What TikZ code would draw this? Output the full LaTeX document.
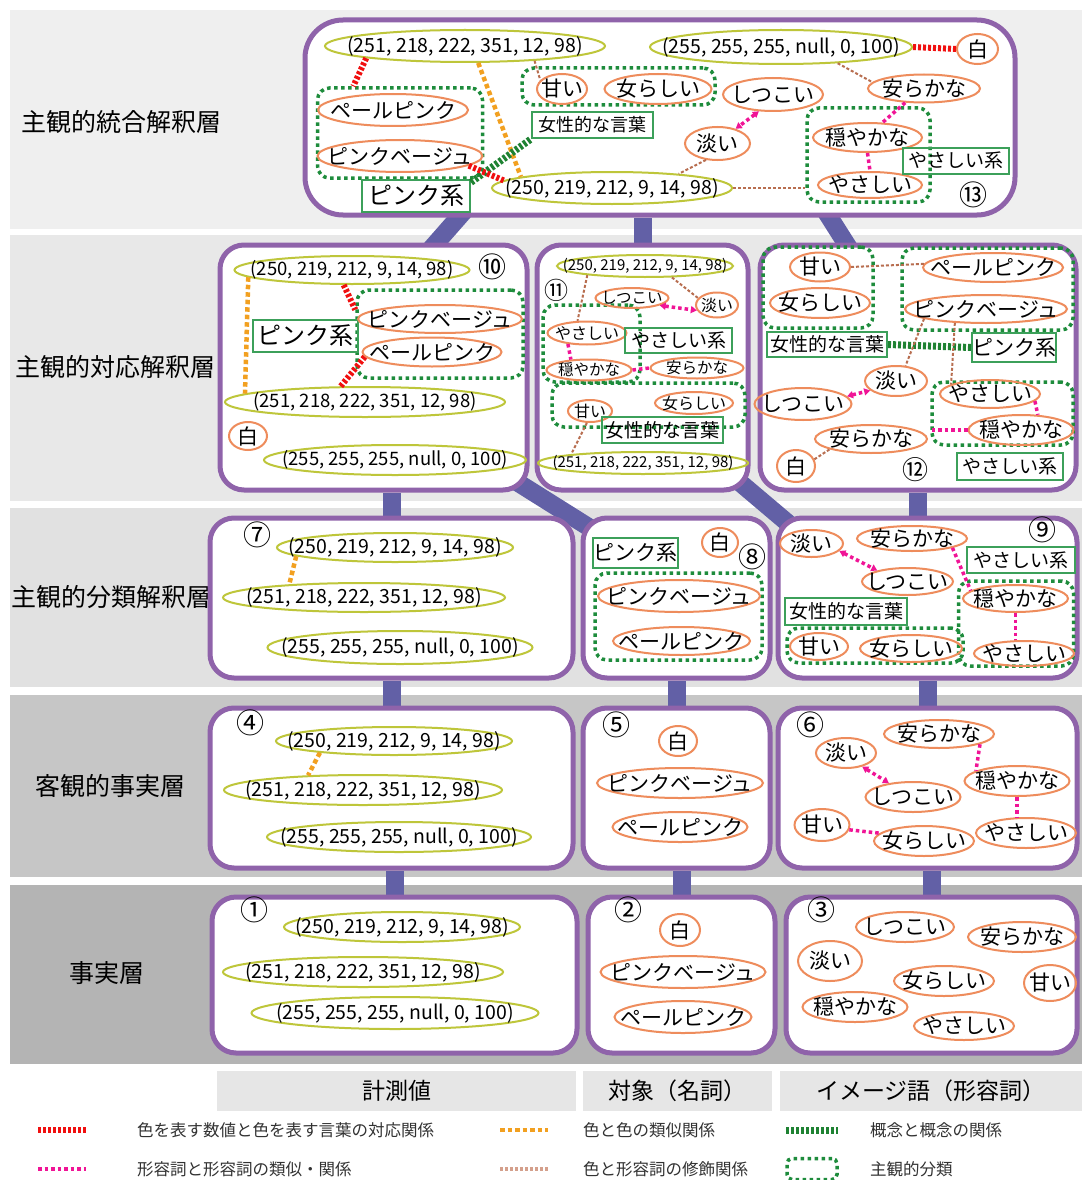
\documentclass[tikz,border=0pt]{standalone}
\usepackage{fontspec}
\setmainfont{Noto Sans CJK JP}
\usetikzlibrary{shapes.geometric,arrows.meta,calc}
\pgfdeclarelayer{bg}
\pgfsetlayers{bg,main}
\definecolor{boxc}{RGB}{143,99,170}
\definecolor{barc}{RGB}{98,96,166}
\definecolor{numc}{RGB}{190,198,58}
\definecolor{wordc}{RGB}{238,140,92}
\definecolor{catc}{RGB}{60,160,90}
\definecolor{grpc}{RGB}{30,140,60}
\definecolor{redc}{RGB}{240,16,16}
\definecolor{orac}{RGB}{242,160,32}
\definecolor{grnc}{RGB}{30,130,50}
\definecolor{magc}{RGB}{240,20,150}
\definecolor{brnc}{RGB}{184,110,80}
\definecolor{brnl}{RGB}{212,160,140}
\definecolor{bandA}{RGB}{239,239,239}
\definecolor{bandB}{RGB}{232,232,232}
\definecolor{bandC}{RGB}{225,225,225}
\definecolor{bandD}{RGB}{198,198,198}
\definecolor{bandE}{RGB}{180,180,180}
\definecolor{hdrc}{RGB}{230,230,230}
\definecolor{lgtc}{RGB}{50,50,50}
\tikzset{
  box/.style={draw=boxc, line width=5, fill=white, rounded corners=#1, inner sep=0},
  box/.default=24,
  bar/.style={draw=barc, line width=18},
  nume/.style={ellipse, draw=numc, line width=2, inner sep=0},
  worde/.style={ellipse, draw=wordc, line width=2, inner sep=0},
  tx/.style={inner sep=0, text=black},
  cat/.style={draw=catc, line width=2, inner sep=0},
  grp/.style={draw=grpc, line width=3.5, dash pattern=on 3.5pt off 3.5pt, rounded corners=12, inner sep=0},
  corr/.style={draw=redc, line width=6, dash pattern=on 3pt off 2pt},
  simc/.style={draw=orac, line width=4.5, dash pattern=on 4.5pt off 3pt},
  conc/.style={draw=grnc, line width=7, dash pattern=on 3pt off 2pt},
  adjc/.style={draw=magc, line width=3.5, dash pattern=on 3.5pt off 3pt},
  adjb/.style={adjc, arrows={Triangle[length=6pt,width=7pt]-Triangle[length=6pt,width=7pt]}},
  modc/.style={draw=brnc, line width=2, dash pattern=on 3pt off 2pt},
  circ/.style={inner sep=0, font=\fontsize{28}{28}\selectfont},
  lay/.style={inner sep=0, font=\fontsize{25}{25}\selectfont},
  hdr/.style={fill=hdrc, inner sep=0, font=\fontsize{23}{23}\selectfont},
  lgt/.style={inner sep=0, anchor=west, text=lgtc, font=\fontsize{16.5}{16.5}\selectfont},
}
\newcommand\NumE[7]{%
  \node[nume,minimum width=#4,minimum height=#5] (#1) at (#2,#3) {};
  \node[tx,font=\fontsize{#6}{#6}\selectfont] (#1t) at (#1.center) {#7};}
\newcommand\WordE[7]{%
  \node[worde,minimum width=#4,minimum height=#5] (#1) at (#2,#3) {};
  \node[tx,font=\fontsize{#6}{#6}\selectfont] (#1t) at (#1.center) {#7};}
\begin{document}
\begin{tikzpicture}[x=1pt,y=-1pt]
\useasboundingbox (0,0) rectangle (1082,1180);
% bands
\begin{pgfonlayer}{bg}
\fill[white] (0,0) rectangle (1082,1180);
\fill[bandA] (10,10) rectangle (1082,229);
\fill[bandB] (10,235) rectangle (1082,501);
\fill[bandC] (10,508) rectangle (1082,687);
\fill[bandD] (10,695) rectangle (1082,877);
\fill[bandE] (10,885) rectangle (1082,1064);
\end{pgfonlayer}
\node[lay] (y1) at (121,122) {主観的統合解釈層};
\node[lay] (y2) at (115,367) {主観的対応解釈層};
\node[lay] (y3) at (111,597) {主観的分類解釈層};
\node[lay] (y4) at (110,786) {客観的事実層};
\node[lay] (y5) at (107,973) {事実層};
% boxes
\node[box=38, minimum width=710, minimum height=195] (b13) at (660,117.5) {};
\node[box, minimum width=307, minimum height=245] (b10) at (373.5,367.5) {};
\node[box, minimum width=211, minimum height=245] (b11) at (642.5,367.5) {};
\node[box, minimum width=316, minimum height=245] (b12) at (918,367.5) {};
\node[box, minimum width=363, minimum height=160] (b7) at (391.5,598) {};
\node[box, minimum width=187, minimum height=160] (b8) at (676.5,598) {};
\node[box, minimum width=299, minimum height=160] (b9) at (927.5,598) {};
\node[box, minimum width=363, minimum height=160] (b4) at (391.5,788) {};
\node[box, minimum width=187, minimum height=160] (b5) at (676.5,788) {};
\node[box, minimum width=299, minimum height=160] (b6) at (927.5,788) {};
\node[box, minimum width=365, minimum height=156] (b1) at (394.5,975) {};
\node[box, minimum width=187, minimum height=156] (b2) at (681.5,975) {};
\node[box, minimum width=291, minimum height=156] (b3) at (931.5,975) {};
% bars
\begin{pgfonlayer}{bg}
\draw[bar] (b1.north) -- (b1.north |- b4.south);
\draw[bar] (b2.north) -- (b2.north |- b5.south);
\draw[bar] (b3.north) -- (b3.north |- b6.south);
\draw[bar] (b4.north) -- (b4.north |- b7.south);
\draw[bar] (b5.north) -- (b5.north |- b8.south);
\draw[bar] (b6.north) -- (b6.north |- b9.south);
\draw[bar] (b7.north) -- (b7.north |- b10.south);
\draw[bar] (b12.south) -- (b12.south |- b9.north);
\draw[bar] ($(b10.south east)+(-15,-12)$) -- ($(b8.north west)+(12,14)$);
\draw[bar] ($(b11.south east)+(-13,-12)$) -- ($(b9.north west)+(14,9)$);
\draw[bar] (b11.north) -- (b11.north |- b13.south);
\draw[bar] ($(b13.south west)+(163,-8)$) -- ($(b10.north west)+(212,8)$);
\draw[bar] ($(b13.south east)+(-193,-8)$) -- ($(b12.north west)+(93,8)$);
\end{pgfonlayer}
% ===== box 13 =====
\node[grp, minimum width=165, minimum height=90] (tg1) at (400,133) {};
\node[grp, minimum width=193, minimum height=37] (tg2) at (618.5,86.5) {};
\node[grp, minimum width=123, minimum height=94] (tg3) at (868.5,155) {};
\NumE{t1}{465}{46}{280}{32}{19.5}{(251, 218, 222, 351, 12, 98)}
\NumE{t2}{781}{47}{262}{34}{19.5}{(255, 255, 255, null, 0, 100)}
\WordE{tw}{977.5}{49}{41}{30}{21}{白}
\NumE{t3}{612}{188}{240}{32}{19.5}{(250, 219, 212, 9, 14, 98)}
\WordE{tpp}{393}{110}{150}{32}{21}{ペールピンク}
\WordE{tpb}{400}{156}{165}{32}{21}{ピンクベージュ}
\node[cat, minimum width=108, minimum height=32, font=\fontsize{24}{24}\selectfont] (tcp) at (416,196) {ピンク系};
\WordE{tam}{562}{89}{50}{30}{21}{甘い}
\WordE{tjo}{658}{89}{107}{30}{21}{女らしい}
\node[cat, minimum width=121, minimum height=26, font=\fontsize{18}{18}\selectfont] (tjc) at (592.5,125) {女性的な言葉};
\WordE{tsh}{773}{94.5}{100}{33}{21}{しつこい}
\WordE{taw}{717.5}{143.5}{65}{33}{21}{淡い}
\WordE{tya}{924}{88.5}{112}{28}{21}{安らかな}
\WordE{tod}{867.5}{137.5}{109}{29}{21}{穏やかな}
\WordE{tys}{870}{185}{104}{26}{21}{やさしい}
\node[cat, minimum width=106, minimum height=26, font=\fontsize{19}{19}\selectfont] (tyc) at (956,160.5) {やさしい系};
\node[circ] (n13) at (973,195) {⑬};
\draw[corr] (t1.187) -- (tg1.135);
\draw[corr] (t2.east) -- (tw.west);
\draw[simc] (t1.308) -- (t3.173);
\draw[conc] (tcp.14) -- (tjc.south west);
\draw[corr] (tpb.352) -- (t3.176);
\draw[modc] (t1.348) -- (tam.158);
\draw[adjb] (tsh.230) -- (taw.39);
\draw[modc] (taw.235) -- (t3.12);
\draw[modc] (t2.344) -- (tya.173);
\draw[adjc] (tya.217) -- (tod.45);
\draw[adjc] (tod.south) -- (tys.north);
\draw[modc] (t3.east) -- (t3.east -| tg3.west);
% ===== box 10 =====
\node[grp, minimum width=166, minimum height=88] (ag) at (440,334) {};
\NumE{a1}{352}{270}{235}{28}{18.5}{(250, 219, 212, 9, 14, 98)}
\node[circ] (n10) at (492,267) {⑩};
\node[cat, minimum width=105, minimum height=32, font=\fontsize{24}{24}\selectfont] (acp) at (305.5,336) {ピンク系};
\WordE{apb}{440}{319}{164}{28}{21}{ピンクベージュ}
\WordE{app}{432}{352}{139}{29}{21}{ペールピンク}
\NumE{a2}{365}{402}{280}{30}{18.5}{(251, 218, 222, 351, 12, 98)}
\WordE{aw}{248}{436}{38}{28}{21}{白}
\NumE{a3}{395}{460}{262}{30}{18.5}{(255, 255, 255, null, 0, 100)}
\draw[simc] (a1.184) -- (a2.176);
\draw[corr] (a1.241) -- (ag.164);
\draw[corr] (a2.147) -- (app.184);
% ===== box 11 =====
\node[grp, minimum width=97, minimum height=77] (cg1) at (591.5,343.5) {};
\node[grp, minimum width=193, minimum height=44] (cg2) at (648.5,405) {};
\NumE{c1}{645}{266}{176}{22}{15}{(250, 219, 212, 9, 14, 98)}
\node[circ, font=\fontsize{24}{24}\selectfont] (n11) at (556,290) {⑪};
\WordE{csh}{632}{298}{73}{20}{15.5}{しつこい}
\WordE{caw}{717}{305}{42}{25}{16}{淡い}
\WordE{cys}{587}{333}{79}{23}{16}{やさしい}
\node[cat, minimum width=107, minimum height=25, font=\fontsize{19}{19}\selectfont] (cyc) at (678.5,340.5) {やさしい系};
\WordE{cod}{589}{370}{85}{21}{15.5}{穏やかな}
\WordE{cya}{697}{368}{93}{21}{15.5}{安らかな}
\WordE{cjo}{694}{403}{78}{22}{16}{女らしい}
\WordE{cam}{590}{411}{44}{22}{16}{甘い}
\node[cat, minimum width=121, minimum height=26, font=\fontsize{19}{19}\selectfont] (cjc) at (662.5,430) {女性的な言葉};
\NumE{c2}{643}{463}{210}{22}{15}{(251, 218, 222, 351, 12, 98)}
\draw[adjb] (csh.345) -- (caw.195);
\draw[modc] (c1.337) -- (caw.160);
\draw[modc] (c1.189) -- (cys.128);
\draw[adjc] (cys.210) -- (cod.150);
\draw[adjc] (cod.east) -- (cya.west);
\draw[modc] (cam.255) -- (c2.173);
% ===== box 12 =====
\node[grp, minimum width=110, minimum height=81] (dg1) at (818,287.5) {};
\node[grp, minimum width=171, minimum height=82] (dg2) at (987.5,289) {};
\node[grp, minimum width=141, minimum height=63] (dg3) at (1002.5,413.5) {};
\WordE{dam}{820}{267}{60}{29}{21}{甘い}
\WordE{djo}{820}{303}{100}{30}{21}{女らしい}
\node[cat, minimum width=120, minimum height=25, font=\fontsize{19}{19}\selectfont] (djc) at (827,344.5) {女性的な言葉};
\WordE{dpp}{993}{267.5}{140}{29}{21}{ペールピンク}
\WordE{dpb}{986}{309}{162}{28}{21}{ピンクベージュ}
\node[cat, minimum width=82, minimum height=29, font=\fontsize{21}{21}\selectfont] (dcp) at (1014,347.5) {ピンク系};
\WordE{daw}{896}{381}{62}{30}{21}{淡い}
\WordE{dsh}{803}{404}{97}{32}{21}{しつこい}
\WordE{dys}{990}{394}{100}{28}{21}{やさしい}
\WordE{dod}{1021}{430}{105}{30}{21}{穏やかな}
\WordE{dya}{871}{439}{112}{28}{21}{安らかな}
\WordE{dw}{796}{466}{38}{32}{21}{白}
\node[cat, minimum width=106, minimum height=27, font=\fontsize{19}{19}\selectfont] (dyc) at (1010,466.5) {やさしい系};
\node[circ, font=\fontsize{26}{26}\selectfont] (n12) at (915,470) {⑫};
\draw[modc] (dam.east) -- (dpp.177);
\draw[conc] (djc.east) -- (dcp.west);
\draw[modc] (dpb.189) -- (daw.58);
\draw[adjb] (dsh.10) -- (daw.200);
\draw[modc] (dpb.204) -- (dys.166);
\draw[adjc] (dys.351) -- (dod.42);
\draw[adjc] (dod.west) -- (dod.west -| dg3.west);
\draw[modc] (dw.20) -- (dya.194);
% ===== box 7 =====
\node[circ] (n7) at (257,535) {⑦};
\NumE{s1}{395}{547.5}{236}{29}{19.5}{(250, 219, 212, 9, 14, 98)}
\NumE{s2}{364}{597.5}{282}{29}{19.5}{(251, 218, 222, 351, 12, 98)}
\NumE{s3}{400}{647.5}{265}{33}{19.5}{(255, 255, 255, null, 0, 100)}
\draw[simc] (s1.185) -- (s2.170);
% ===== box 8 =====
\node[grp, minimum width=167, minimum height=87] (pg) at (678.5,616.5) {};
\node[cat, minimum width=85, minimum height=30, font=\fontsize{21}{21}\selectfont] (pcp) at (635.5,553) {ピンク系};
\WordE{pw}{720}{542.5}{36}{29}{21}{白}
\node[circ] (n8) at (752,557) {⑧};
\WordE{ppb}{679}{596}{162}{32}{21}{ピンクベージュ}
\WordE{ppp}{681.5}{641}{137}{28}{21}{ペールピンク}
% ===== box 9 =====
\node[grp, minimum width=115, minimum height=85] (qg1) at (1016,623.5) {};
\node[grp, minimum width=176, minimum height=35] (qg2) at (875,645.5) {};
\WordE{qaw}{811.5}{543.5}{63}{27}{21}{淡い}
\WordE{qya}{912}{538.5}{110}{25}{21}{安らかな}
\node[circ] (n9) at (1042,530) {⑨};
\node[cat, minimum width=108, minimum height=26, font=\fontsize{19}{19}\selectfont] (qyc) at (1021,560) {やさしい系};
\WordE{qsh}{907.5}{581.5}{91}{27}{21}{しつこい}
\WordE{qod}{1015.5}{598.5}{105}{27}{21}{穏やかな}
\WordE{qys}{1024}{653.5}{100}{25}{21}{やさしい}
\node[cat, minimum width=122, minimum height=27, font=\fontsize{19}{19}\selectfont] (qjc) at (846,611.5) {女性的な言葉};
\WordE{qam}{819}{646.5}{58}{27}{21}{甘い}
\WordE{qjo}{911}{648.5}{102}{27}{21}{女らしい}
\draw[adjb] (qaw.345) -- (qsh.160);
\draw[adjc] (qya.347) -- (qod.170);
\draw[adjc] (qod.south) -- (qod.south |- qys.north);
% ===== box 4 =====
\node[circ] (n4) at (250,723) {④};
\NumE{f1}{394}{741}{236}{28}{19.5}{(250, 219, 212, 9, 14, 98)}
\NumE{f2}{363}{790}{278}{30}{19.5}{(251, 218, 222, 351, 12, 98)}
\NumE{f3}{399}{837}{264}{30}{19.5}{(255, 255, 255, null, 0, 100)}
\draw[simc] (f1.189) -- (f2.165);
% ===== box 5 =====
\node[circ] (n5) at (616,725) {⑤};
\WordE{gw}{678}{741}{38}{30}{21}{白}
\WordE{gpb}{680}{783}{166}{30}{21}{ピンクベージュ}
\WordE{gpp}{680}{827}{135}{30}{21}{ペールピンク}
% ===== box 6 =====
\node[circ] (n6) at (810,725) {⑥};
\WordE{haw}{846}{753}{60}{30}{21}{淡い}
\WordE{hya}{939}{734}{110}{28}{21}{安らかな}
\WordE{hsh}{913}{797}{95}{30}{21}{しつこい}
\WordE{hod}{1017}{781}{105}{30}{21}{穏やかな}
\WordE{ham}{822}{825}{55}{32}{21}{甘い}
\WordE{hjo}{924}{841}{100}{30}{21}{女らしい}
\WordE{hys}{1026}{833}{100}{30}{21}{やさしい}
\draw[adjb] (haw.320) -- (hsh.150);
\draw[adjc] (hya.346) -- (hod.166);
\draw[adjc] (hod.south) -- (hod.south |- hys.north);
\draw[adjc] (ham.350) -- (hjo.170);
% ===== box 1 =====
\node[circ] (n1) at (254,910) {①};
\NumE{k1}{402}{927}{236}{30}{19.5}{(250, 219, 212, 9, 14, 98)}
\NumE{k2}{363}{972}{280}{30}{19.5}{(251, 218, 222, 351, 12, 98)}
\NumE{k3}{395}{1013}{287}{32}{19.5}{(255, 255, 255, null, 0, 100)}
% ===== box 2 =====
\node[circ] (n2) at (628,910) {②};
\WordE{mw}{680}{930}{40}{32}{21}{白}
\WordE{mpb}{683}{972}{165}{32}{21}{ピンクベージュ}
\WordE{mpp}{683}{1017}{137}{32}{21}{ペールピンク}
% ===== box 3 =====
\node[circ] (n3) at (821,910) {③};
\WordE{rsh}{905}{927}{98}{30}{21}{しつこい}
\WordE{rya}{1022}{937}{108}{30}{21}{安らかな}
\WordE{raw}{830}{961}{64}{40}{21}{淡い}
\WordE{rjo}{944}{981}{100}{30}{21}{女らしい}
\WordE{ram}{1050}{983}{52}{36}{21}{甘い}
\WordE{rod}{855}{1007}{105}{30}{21}{穏やかな}
\WordE{rys}{964}{1026}{100}{28}{21}{やさしい}
% ===== legend =====
\node[hdr, minimum width=359, minimum height=40] (L1) at (396.5,1091) {計測値};
\node[hdr, minimum width=189, minimum height=40] (L2) at (677.5,1091) {対象（名詞）};
\node[hdr, minimum width=302, minimum height=40] (L3) at (931,1091) {イメージ語（形容詞）};
\coordinate (la1) at (38,1130); \coordinate (la2) at (86,1130);
\coordinate (lb1) at (38,1169); \coordinate (lb2) at (86,1169);
\coordinate (lc1) at (500,1130); \coordinate (lc2) at (548,1130);
\coordinate (ld1) at (500,1169); \coordinate (ld2) at (548,1169);
\coordinate (le1) at (786,1130); \coordinate (le2) at (838,1130);
\draw[corr] (la1) -- (la2);
\draw[adjc] (lb1) -- (lb2);
\draw[simc] (lc1) -- (lc2);
\draw[modc, draw=brnl, line width=4] (ld1) -- (ld2);
\draw[conc] (le1) -- (le2);
\node[grp, minimum width=50, minimum height=21, rounded corners=5] (lf) at (812,1169) {};
\node[lgt] (lt1) at (137,1130) {色を表す数値と色を表す言葉の対応関係};
\node[lgt] (lt2) at (137,1169) {形容詞と形容詞の類似・関係};
\node[lgt] (lt3) at (583,1130) {色と色の類似関係};
\node[lgt] (lt4) at (583,1169) {色と形容詞の修飾関係};
\node[lgt] (lt5) at (870,1130) {概念と概念の関係};
\node[lgt] (lt6) at (870,1169) {主観的分類};
\end{tikzpicture}
\end{document}
